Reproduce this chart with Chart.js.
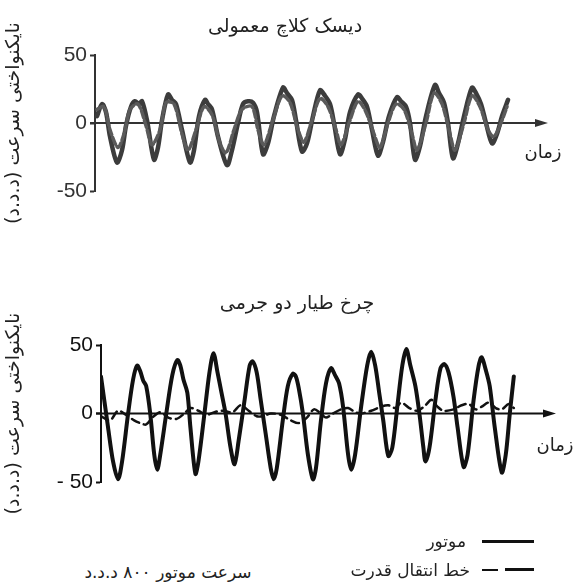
<!DOCTYPE html>
<html>
<head>
<meta charset="utf-8">
<script src="https://cdn.jsdelivr.net/npm/chart.js@4"></script>
<style>
  body { margin: 0; background: #fff; width: 576px; height: 588px; position: relative; overflow: hidden;
         font-family: "DejaVu Sans", sans-serif; color: #222; }
  canvas { position: absolute; left: 0; }
  .lbl { position: absolute; white-space: nowrap; direction: rtl; line-height: 1; }
  .c { transform: translate(-50%, -50%); }
  .r { transform: translateY(-50%); }
  .seg { position: absolute; background: #111; }
</style>
</head>
<body>
<canvas id="topChart" width="576" height="240" style="top:0"></canvas>
<canvas id="bottomChart" width="576" height="240" style="top:280px"></canvas>

<div class="lbl c" style="left:285px;top:25px;font-size:19px">دیسک کلاچ معمولی</div>
<div class="lbl c" style="left:297px;top:302px;font-size:19px">چرخ طیار دو جرمی</div>
<div class="lbl c" style="left:543px;top:152px;font-size:18px">زمان</div>
<div class="lbl c" style="left:555px;top:445px;font-size:18px">زمان</div>

<div class="seg" style="left:482px;top:540px;width:52px;height:3px"></div>
<div class="lbl r" style="right:110px;top:541px;font-size:17px">موتور</div>
<div class="seg" style="left:482px;top:569px;width:16px;height:2px"></div>
<div class="seg" style="left:505px;top:568px;width:29px;height:3px"></div>
<div class="lbl r" style="right:106px;top:570px;font-size:17px">خط انتقال قدرت</div>
<div class="lbl c" style="left:168px;top:572px;font-size:17px">سرعت موتور ۸۰۰ د.د.د</div>

<script>
// time in ms, speed fluctuation in rpm
const topMotorT = [2,7,11,15,22,27,31,36,40,44,47,52,59,63,67,73,77,81,87,95,99,104,110,113,117,123,132,137,143,148,153,158,162,168,173,179,188,192,197,201,207,212,218,225,230,235,239,245,250,255,263,267,272,277,283,288,294,302,306,311,315,320,325,331,340,344,349,353,358,363,369,377,381,386,391,397,402,407,413];
const topMotorV = [5,14,8,-10,-29,-20,-2,12,16,14,16,2,-27,-18,2,21,17,14,-5,-29,-20,5,17,14,10,-10,-31,-20,0,14,16,15,8,-23,-15,5,26,22,17,2,-21,-15,5,24,20,14,0,-23,-12,8,21,18,12,-5,-24,-14,5,19,16,12,0,-27,-17,5,28,22,15,0,-26,-15,5,26,22,14,0,-15,-8,5,17];
const topDriveT = [2,9,15,23,29,35,43,51,57,65,71,79,87,93,101,109,117,125,131,139,147,157,163,169,177,187,195,203,209,217,225,233,241,246,255,263,271,279,285,293,301,309,317,322,331,339,347,355,360,369,377,385,393,399,407,412];
const topDriveV = [10,12,-5,-18,-8,10,14,-2,-16,-5,15,14,-8,-20,-5,12,6,-15,-22,-5,10,12,-5,-16,0,20,15,-5,-14,2,18,12,-5,-16,2,16,8,-8,-18,0,14,10,-8,-20,0,22,14,-8,-20,0,20,12,-5,-10,2,12];

const bottomMotorT = [0,7,12,17,21,27,32,36,39,42,45,49,53,56,59,65,71,76,79,82,86,89,94,97,103,108,112,116,120,124,129,133,137,143,148,151,155,159,164,169,172,175,181,186,191,194,197,201,206,211,214,219,224,229,233,237,241,246,249,253,259,265,269,273,277,281,286,290,295,300,304,308,313,317,321,323,327,333,338,342,346,351,355,361,365,371,376,379,383,387,392,399,403,407,411];
const bottomMotorV = [27,-10,-35,-48,-35,0,25,35,31,24,20,0,-30,-41,-30,0,28,39,35,25,15,-10,-44,-35,0,30,44,30,15,0,-25,-37,-20,10,35,38,30,10,-15,-40,-48,-40,-5,20,29,27,18,0,-30,-48,-40,-5,22,33,28,22,5,-30,-41,-30,5,35,45,35,15,-5,-31,-25,5,35,47,35,20,0,-25,-35,-25,10,33,36,30,12,-10,-39,-30,10,35,41,32,20,-10,-43,-30,0,27];
const bottomDriveT = [0,9,17,25,33,39,45,51,59,67,75,83,89,97,105,113,121,131,139,147,155,161,169,179,189,197,205,212,219,224,231,239,246,253,259,269,279,286,293,299,307,315,323,329,335,341,351,359,366,373,379,386,393,399,406,411];
const bottomDriveV = [-2,-5,2,-1,-5,-7,-8,-3,1,-3,-4,0,4,2,-1,1,2,1,6,2,-2,-2,0,-1,-5,-7,-3,3,0,-3,0,3,4,1,0,2,5,6,4,8,4,2,6,10,5,2,3,6,7,3,5,8,4,3,7,4];

const tickValues = [-50, 0, 50];
const topTickLabels = ["-50", "0", "50"];
const bottomTickLabels = ["- 50", "0", "50"];
const yTitle = "نایکنواختی سرعت (د.د.د)\u200F";
const X_MAX = 453;

function pts(ts, vs) {
  return ts.map((t, i) => ({ x: t, y: vs[i] }));
}

const zeroAxis = {
  id: "zeroAxis",
  beforeDatasetsDraw(chart, args, opts) {
    const { ctx, chartArea } = chart;
    const yy = chart.scales.y.getPixelForValue(0);
    ctx.save();
    ctx.strokeStyle = opts.color;
    ctx.fillStyle = opts.color;
    ctx.lineWidth = 2;
    ctx.beginPath();
    ctx.moveTo(chartArea.left - 5, yy);
    ctx.lineTo(chartArea.right - 8, yy);
    ctx.stroke();
    ctx.beginPath();
    ctx.moveTo(chartArea.right, yy);
    ctx.lineTo(chartArea.right - 13, yy - 4);
    ctx.lineTo(chartArea.right - 13, yy + 4);
    ctx.closePath();
    ctx.fill();
    ctx.restore();
  }
};

function makeChart(id, datasets, cfg) {
  return new Chart(document.getElementById(id), {
    type: "line",
    data: { datasets },
    options: {
      responsive: false,
      animation: false,
      layout: { padding: { top: cfg.padTop, bottom: cfg.padBottom, left: 0, right: cfg.padRight } },
      plugins: {
        legend: { display: false },
        tooltip: { enabled: false },
        zeroAxis: { color: cfg.color }
      },
      elements: { point: { radius: 0 }, line: { tension: 0.3, borderCapStyle: "round", borderJoinStyle: "round" } },
      scales: {
        x: { type: "linear", min: 0, max: X_MAX, display: false },
        y: {
          min: -50, max: 50,
          afterFit: (s) => { s.width = cfg.axisW; },
          afterBuildTicks: (s) => { s.ticks = tickValues.map(v => ({ value: v })); },
          ticks: {
            padding: 3,
            color: cfg.color,
            font: { family: "'Liberation Sans', Arial, sans-serif", size: 21 },
            callback: (v) => cfg.tickLabels[tickValues.indexOf(v)]
          },
          grid: { drawOnChartArea: false, tickLength: 5, color: cfg.color, tickWidth: 2 },
          border: { display: true, color: cfg.color, width: 2 },
          title: {
            display: true,
            text: yTitle,
            color: "#222",
            padding: { top: 3, bottom: 0 },
            font: { family: "'DejaVu Sans', sans-serif", size: 19 }
          }
        }
      }
    },
    plugins: [zeroAxis]
  });
}

makeChart("topChart", [
  { data: pts(topDriveT, topDriveV), borderColor: "#5a5a5a", borderWidth: 3.5, borderDash: [7, 3] },
  { data: pts(topMotorT, topMotorV), borderColor: "#3c3c3c", borderWidth: 4.5 }
], { padTop: 55, padBottom: 49, padRight: 28, axisW: 95, color: "#333", tickLabels: topTickLabels });

makeChart("bottomChart", [
  { data: pts(bottomDriveT, bottomDriveV), borderColor: "#111", borderWidth: 2.5, borderDash: [8, 5] },
  { data: pts(bottomMotorT, bottomMotorV), borderColor: "#111", borderWidth: 4 }
], { padTop: 65, padBottom: 38, padRight: 20, axisW: 101, color: "#111", tickLabels: bottomTickLabels });
</script>
</body>
</html>
